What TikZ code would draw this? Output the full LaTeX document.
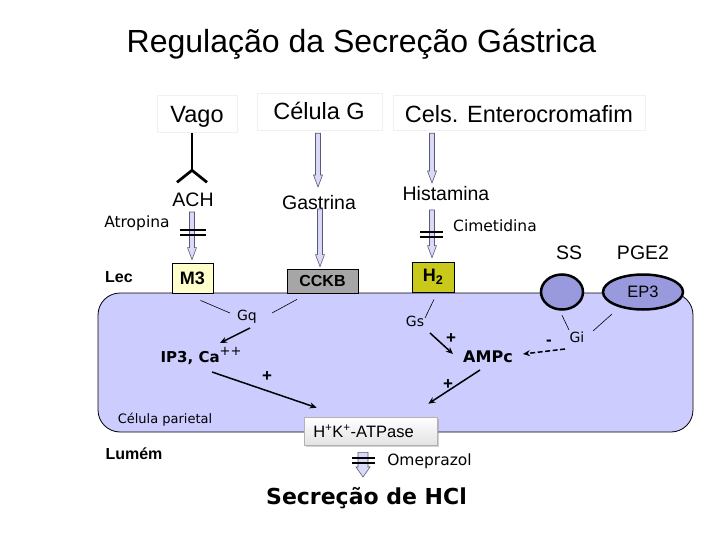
\documentclass[tikz,border=0pt]{standalone}
\usepackage{fontspec}
\setmainfont{Liberation Sans}
\newfontfamily\tah{DejaVu Sans}
\usetikzlibrary{calc,arrows.meta,shadows,shapes.geometric}
\definecolor{cellfill}{RGB}{204,204,255}
\definecolor{arrfill}{RGB}{218,218,246}
\definecolor{arrdraw}{RGB}{90,90,125}
\definecolor{mthree}{RGB}{255,255,204}
\definecolor{cckbfill}{RGB}{166,166,166}
\definecolor{htwo}{RGB}{201,201,28}
\definecolor{recep}{RGB}{153,153,221}
\definecolor{faint}{RGB}{240,240,240}
\newcommand\blockarr[5]{\draw[arrdraw, fill=arrfill, line width=0.6pt] let \p1=(#1), \p2=(#2) in (\x1-#3,\y1) -- (\x1+#3,\y1) -- (\x1+#3,\y2+#5) -- (\x1+#4,\y2+#5) -- (\x1,\y2) -- (\x1-#4,\y2+#5) -- (\x1-#3,\y2+#5) -- cycle;}
\tikzset{
 srcbox/.style={draw=faint, line width=0.6pt, inner sep=0pt, font=\fontsize{23.5}{26}\selectfont},
 lbl/.style={inner sep=0pt, anchor=base, font=\fontsize{19.5}{22}\selectfont},
 thinlbl/.style={inner sep=0pt, anchor=base, font=\tah\fontsize{15.5}{18}\selectfont},
 glbl/.style={inner sep=0pt, anchor=base, font=\tah\fontsize{14}{16}\selectfont},
 boldlbl/.style={inner sep=0pt, anchor=base, font=\bfseries\fontsize{16}{18}\selectfont},
 tahbold/.style={inner sep=0pt, anchor=base, font=\tah\bfseries\fontsize{16}{18}\selectfont},
 sign/.style={inner sep=0pt, font=\bfseries\fontsize{17}{18}\selectfont},
 recbox/.style={draw=black, line width=0.8pt, inner sep=0pt, font=\bfseries\fontsize{18}{20}\selectfont},
 recell/.style={ellipse, draw=black, line width=2.5pt, fill=recep, inner sep=0pt},
 cellbox/.style={draw=black, line width=0.8pt, fill=cellfill, rounded corners=22pt},
 thinline/.style={line width=0.6pt},
 sigarrow/.style={line width=1.5pt, -{Stealth[length=7pt,width=6pt]}},
 blocker/.style={line width=2pt},
}
\begin{document}
\begin{tikzpicture}[x=1pt,y=-1pt]
\useasboundingbox[fill=white] (0,0) rectangle (720,540);
% title
\node[inner sep=0pt, anchor=base, font=\fontsize{32}{34}\selectfont] (title) at (361.5,53) {Regulação da Secreção Gástrica};
% sources
\node[srcbox, minimum width=80pt, minimum height=37pt] (vago) at (197,113.5) {};
\node[lbl, font=\fontsize{23.5}{26}\selectfont] (vagot) at (197,123) {Vago};
\node[srcbox, minimum width=125pt, minimum height=37pt] (celg) at (319.5,111.5) {};
\node[lbl, font=\fontsize{23.5}{26}\selectfont] (celgt) at (319,120) {Célula G};
\node[srcbox, minimum width=252pt, minimum height=35pt] (entero) at (519,112.5) {};
\node[lbl, font=\fontsize{23.5}{26}\selectfont] (enterot) at (519,123) {Cels. Enterocromafim};
% cell
\node[cellbox, minimum width=595pt, minimum height=139pt] (cell) at (395.5,362.5) {};
% mediators
\node[lbl] (ach) at (193,207) {ACH};
\node[thinlbl] (atropina) at (137,228) {Atropina};
\node[lbl] (gastrina) at (319,210) {Gastrina};
\node[lbl] (histamina) at (446,201) {Histamina};
\node[thinlbl] (cimetidina) at (495,231) {Cimetidina};
\node[lbl] (ss) at (569,259) {SS};
\node[lbl] (pge2) at (643,259) {PGE2};
\node[boldlbl] (lec) at (119,282) {Lec};
% receptors
\node[recbox, fill=mthree, minimum width=41pt, minimum height=30pt] (m3) at (192.5,278) {M3};
\node[recbox, fill=cckbfill, minimum width=71pt, minimum height=24pt, font=\bfseries\fontsize{16}{18}\selectfont] (cckb) at (322.5,281) {CCKB};
\node[recbox, fill=htwo, minimum width=42pt, minimum height=30pt] (h2) at (433,277) {H\textsubscript{2}};
\node[recell, minimum width=42pt, minimum height=35pt] (ssell) at (562,292) {};
\node[recell, minimum width=80pt, minimum height=35pt, font=\fontsize{16.5}{18}\selectfont] (ep3) at (643,292) {EP3};
% vagus ending
\draw[line width=2.8pt] ($(vago.south)+(-5,1)$) -- ($(vago.south)+(-5,38)$) coordinate (yfork);
\draw[line width=2.8pt] ($(yfork)+(-15,12)$) -- (yfork) -- ($(yfork)+(15,12)$);
% block arrows
\blockarr{$(ach.base)+(-1,5)$}{$(m3.north)+(-0.5,-3)$}{2.5pt}{4.5pt}{12pt}
\draw[blocker] ($(ach.base)+(-13,23)$) -- ($(ach.base)+(13,23)$);
\draw[blocker] ($(ach.base)+(-13,28)$) -- ($(ach.base)+(13,28)$);
\blockarr{$(celg.south)+(-1.5,3)$}{$(gastrina.base)+(-1,-23)$}{2.5pt}{4.5pt}{12pt}
\blockarr{$(gastrina.base)+(1,-1)$}{$(cckb.north)+(-2.5,-2)$}{2.5pt}{4.5pt}{12pt}
\blockarr{$(entero.south)+(-87,3)$}{$(histamina.base)+(-14,-18)$}{2.5pt}{4.5pt}{12pt}
\blockarr{$(histamina.base)+(-14,9)$}{$(h2.north)+(-1,-4)$}{2.5pt}{4.5pt}{12pt}
\draw[blocker] ($(histamina.base)+(-26,31)$) -- ($(histamina.base)+(-3,31)$);
\draw[blocker] ($(histamina.base)+(-26,36)$) -- ($(histamina.base)+(-3,36)$);
% inside the cell
\node[glbl] (gq) at (247,320) {Gq};
\node[inner sep=0pt, anchor=base] (ip3) at (201,362) {\tah\bfseries\fontsize{15}{17}\selectfont IP3, Ca\raisebox{7pt}{\mdseries\fontsize{13}{14}\selectfont ++}};
\node[glbl] (gs) at (415,326) {Gs};
\node[tahbold] (ampc) at (488,362) {AMPc};
\node[glbl] (gi) at (577,342) {Gi};
\node[inner sep=0pt, anchor=base, font=\tah\fontsize{13}{15}\selectfont] (celpar) at (165,423) {Célula parietal};
\node[sign] (plus1) at (267,377) {+};
\node[sign] (plus2) at (451,339) {+};
\node[sign] (plus3) at (448,385) {+};
\node[sign] (minus1) at (549,343) {-};
\draw[thinline] ($(m3.south)+(8,7)$) -- ($(gq.base)+(-17,-7)$);
\draw[thinline] ($(gq.base)+(25,-7)$) -- ($(cckb.south)+(-25.5,6)$);
\draw[thinline] ($(gs.base)+(10,-8)$) -- ($(h2.south)+(1,7)$);
\draw[thinline] ($(ssell.south)+(0,4.5)$) -- ($(gi.base)+(-8,-12)$);
\draw[thinline] ($(ep3)+(-31,22)$) -- ($(gi.base)+(16,-11)$);
% H+K+ ATPase
\node[draw=gray!60, line width=0.6pt, top color=white, bottom color=gray!22, drop shadow={opacity=0.35, shadow xshift=2pt, shadow yshift=-2pt}, minimum width=133pt, minimum height=28pt, inner sep=0pt, font=\fontsize{16.5}{18}\selectfont] (hk) at (370.5,431) {\hspace*{-14pt}H\textsuperscript{+}K\textsuperscript{+}-ATPase};
\draw[sigarrow] ($(gq.base)+(3,8)$) -- ($(ip3.base)+(19,-19)$);
\draw[sigarrow] ($(ip3.base)+(11,10)$) -- ($(hk.north west)+(13,-9)$);
\draw[sigarrow] ($(gs.base)+(15,7)$) -- ($(ampc.base)+(-35,-8)$);
\draw[sigarrow] ($(ampc.base)+(-8,8)$) -- ($(hk.north east)+(-9,-13)$);
\draw[sigarrow, dashed, dash pattern=on 5pt off 2.5pt] ($(gi.base)+(-12,7)$) -- ($(ampc.base)+(35,-8)$);
% bottom
\node[boldlbl] (lumem) at (134,459) {Lumém};
\node[inner sep=0pt, anchor=base, font=\tah\bfseries\fontsize{22}{24}\selectfont] (secrecao) at (366.5,504) {Secreção de HCl};
\node[thinlbl] (omeprazol) at (429.5,465) {Omeprazol};
\blockarr{$(hk.south)+(-7.5,7)$}{$(secrecao.base)+(-3.5,-27)$}{5pt}{7pt}{10pt}
\draw[blocker] ($(hk.south)+(-18.5,13)$) -- ($(hk.south)+(4.5,13)$);
\draw[blocker] ($(hk.south)+(-18.5,18)$) -- ($(hk.south)+(4.5,18)$);
\end{tikzpicture}
\end{document}
